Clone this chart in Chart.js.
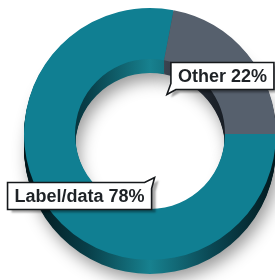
<!DOCTYPE html>
<html>
<head>
<meta charset="utf-8">
<script src="https://cdn.jsdelivr.net/npm/chart.js@4"></script>
<style>
  html, body { margin: 0; padding: 0; background: #fff; overflow: hidden; }
  #wrap { position: absolute; left: 0; top: 0; width: 300px; height: 280px; }
</style>
</head>
<body>
<div id="wrap"><canvas id="donut"></canvas></div>
<script>
// data
var labels = ['Label/data', 'Other'];
var values = [78, 22];

// look
var faceColors = ['#107f92', '#56606d'];
var sideStops = [
  ['#021418', '#083e48', '#17818f', '#0a4652', '#03191e'],
  ['#0b0e12', '#20262e', '#454e5b', '#1c222a', '#0b0e12']
];
var depth = 14;

// draws the ring's side (shifted copies of each arc) before the top face
var extrude = {
  id: 'extrude',
  beforeDatasetsDraw: function(chart) {
    var ctx = chart.ctx;
    var arcs = chart.getDatasetMeta(0).data;
    ctx.save();
    for (var d = depth; d >= 1; d--) {
      if (d == depth) {
        ctx.shadowColor = 'rgba(0,0,0,0.4)';
        ctx.shadowBlur = 16;
        ctx.shadowOffsetX = 4;
        ctx.shadowOffsetY = 7;
      } else {
        ctx.shadowColor = 'transparent';
        ctx.shadowBlur = 0;
        ctx.shadowOffsetX = 0;
        ctx.shadowOffsetY = 0;
      }
      arcs.forEach(function(a, i) {
        var g = ctx.createLinearGradient(a.x - a.outerRadius, 0, a.x + a.outerRadius, 0);
        var st = sideStops[i];
        for (var k = 0; k < st.length; k++) g.addColorStop(k / (st.length - 1), st[k]);
        ctx.fillStyle = g;
        ctx.beginPath();
        ctx.arc(a.x, a.y + d, a.outerRadius, a.startAngle, a.endAngle);
        ctx.arc(a.x, a.y + d, a.innerRadius, a.endAngle, a.startAngle, true);
        ctx.closePath();
        ctx.fill();
      });
    }
    ctx.restore();
  }
};

// callout boxes with a little tail pointing to the ring's centre
var callouts = {
  id: 'callouts',
  afterDatasetsDraw: function(chart, args, opts) {
    var ctx = chart.ctx;
    var meta = chart.getDatasetMeta(0);
    ctx.save();
    ctx.font = 'bold 18px "Liberation Sans", Arial, sans-serif';
    ctx.textBaseline = 'middle';
    ctx.textAlign = 'center';
    meta.data.forEach(function(a, i) {
      var txt = labels[i] + ' ' + values[i] + '%';
      var p = a.tooltipPosition();
      var nudge = opts.nudge[i];
      var cx = p.x + nudge[0], cy = p.y + nudge[1];
      var w = ctx.measureText(txt).width + 14, h = 27;
      var x0 = cx - w / 2, x1 = cx + w / 2, y0 = cy - h / 2, y1 = cy + h / 2;
      var left = a.x < cx;   // box right of centre -> tail on the left side
      var up = a.y > cy;     // box above centre -> tail at the bottom

      ctx.beginPath();
      if (left && up) {
        // tail at bottom-left
        ctx.moveTo(x0, y0);
        ctx.lineTo(x1, y0);
        ctx.lineTo(x1, y1);
        ctx.lineTo(x0 + 5, y1);
        ctx.lineTo(x0 - 4, y1 + 5);
        ctx.lineTo(x0, y1 - 6);
      } else {
        // tail at top-right
        ctx.moveTo(x0, y0);
        ctx.lineTo(x1 - 7, y0);
        ctx.lineTo(x1 + 3, y0 - 5);
        ctx.lineTo(x1, y0 + 6);
        ctx.lineTo(x1, y1);
        ctx.lineTo(x0, y1);
      }
      ctx.closePath();

      ctx.shadowColor = 'rgba(0,0,0,0.35)';
      ctx.shadowBlur = 2;
      ctx.shadowOffsetX = 4;
      ctx.shadowOffsetY = 3;
      ctx.fillStyle = '#ffffff';
      ctx.fill();
      ctx.shadowColor = 'transparent';
      ctx.lineWidth = 1.6;
      ctx.strokeStyle = '#15181b';
      ctx.stroke();

      ctx.fillStyle = '#1e2226';
      ctx.fillText(txt, cx, cy + 1);
    });
    ctx.restore();
  }
};

var ctx = document.getElementById('donut').getContext('2d');
var myChart = new Chart(ctx, {
  type: 'doughnut',
  data: {
    labels: labels,
    datasets: [{
      data: values,
      backgroundColor: faceColors,
      borderWidth: 0,
      offset: 0,
      hoverOffset: 0
    }]
  },
  options: {
    responsive: true,
    maintainAspectRatio: false,
    animation: false,
    events: [],
    rotation: 90,
    cutout: '59.5%',
    layout: { padding: { left: 24, right: 24, top: 8, bottom: 20 } },
    plugins: {
      legend: { display: false },
      tooltip: { enabled: false },
      callouts: { nudge: [[7, -2], [-5, 6]] }
    }
  },
  plugins: [extrude, callouts]
});
</script>
</body>
</html>
